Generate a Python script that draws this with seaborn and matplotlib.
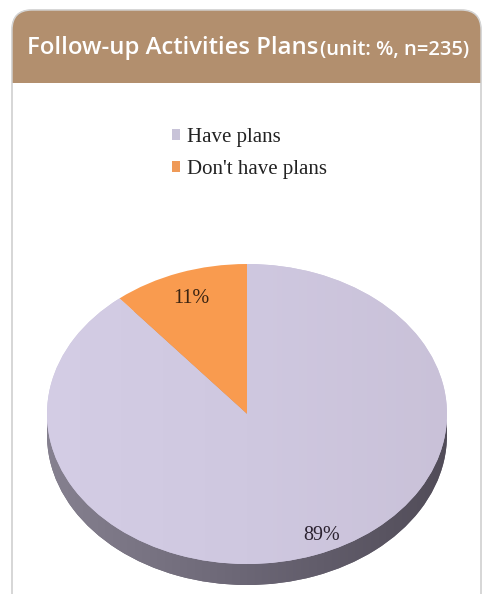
import numpy as np
import matplotlib
matplotlib.use("Agg")
import matplotlib.pyplot as plt
import seaborn as sns
from matplotlib.patches import FancyBboxPatch, Rectangle
from matplotlib.colors import LinearSegmentedColormap

# ---- data ----
categories = ["Have plans", "Don't have plans"]
shares = [89, 11]
title_main = "Follow-up Activities Plans"
title_note = "(unit: %, n=235)"

# ---- style ----
sns.set_theme(style="white")
plt.rcParams["font.family"] = ["DejaVu Sans"]

top_colors = ["#cdc6df", "#f99b4f"]
side_colors = ["#6a6573", "#b86a2c"]
header_color = "#b28f6e"

W, H = 483, 594
fig = plt.figure(figsize=(W / 100, H / 100), dpi=100)
fig.patch.set_facecolor("white")

# background layer in pixel coordinates
bg = fig.add_axes([0, 0, 1, 1])
bg.set_xlim(0, W)
bg.set_ylim(H, 0)
bg.axis("off")

panel = FancyBboxPatch((12, 10), 469, 610, boxstyle="round,pad=0,rounding_size=20",
                       facecolor="white", edgecolor="#d4d4d4", linewidth=1.0, zorder=1)
bg.add_patch(panel)
header = Rectangle((0, 0), W, 83, facecolor=header_color, edgecolor="none", zorder=2)
bg.add_patch(header)
header.set_clip_path(panel)
bg.add_patch(FancyBboxPatch((12, 10), 469, 610, boxstyle="round,pad=0,rounding_size=20",
                            facecolor="none", edgecolor="#d4d4d4", linewidth=1.0, zorder=3))

# title: main part fitted to its width, note appended after it
t1 = bg.text(27, 48, title_main, color="white", fontsize=20, fontfamily="Open Sans",
             fontweight="semibold", va="center", ha="left", zorder=4)
fig.canvas.draw()
r = fig.canvas.get_renderer()
ext = t1.get_window_extent(r)
t1.set_fontsize(20 * (318 - 27) / ext.width)
fig.canvas.draw()
ext = t1.get_window_extent(r)
x_end = ext.x1
t2 = bg.text(x_end + 2, 50, title_note, color="white", fontsize=12, fontfamily="Open Sans",
             fontweight="semibold", va="center", ha="left", zorder=4)
fig.canvas.draw()
e2 = t2.get_window_extent(r)
t2.set_fontsize(12 * (470 - x_end - 2) / e2.width)

# ---- pie axes: centre (247, 414), rx=200 px, ry=150 px ----
cx, cy, rx, ry = 247, 414, 200, 150
xlim = (-1.1, 1.1)
ylim = (-1.3, 1.1)
left_px = cx + xlim[0] * rx
width_px = (xlim[1] - xlim[0]) * rx
bottom_px = cy - ylim[0] * ry  # pixel from top
height_px = (ylim[1] - ylim[0]) * ry
ax = fig.add_axes([left_px / W, (H - bottom_px) / H, width_px / W, height_px / H])
ax.patch.set_alpha(0)

depth = 21 / ry

# side of the disc: the same shares, shifted down
side_wedges, _ = ax.pie(shares, colors=side_colors, startangle=90, counterclock=False,
                        center=(0, -depth), wedgeprops=dict(linewidth=0, zorder=1))
side_cmap = LinearSegmentedColormap.from_list("side", ["#878291", "#6b6675", "#504b57"])
grad = np.linspace(0, 1, 256).reshape(1, -1)
im = ax.imshow(grad, extent=[-1.05, 1.05, -1.3, 0.2], cmap=side_cmap, aspect="auto",
               zorder=1.5, interpolation="bicubic")
im.set_clip_path(side_wedges[0])

# top face of the disc
top_wedges, _, pct_texts = ax.pie(
    shares, colors=top_colors, startangle=90, counterclock=False,
    autopct="%.0f%%", pctdistance=0.82,
    wedgeprops=dict(linewidth=0, zorder=2),
    textprops=dict(fontfamily="Liberation Serif", fontsize=14.5, color="#2b2230", zorder=4))
top_cmap = LinearSegmentedColormap.from_list("top", ["#d4cde5", "#cfc8e0", "#c9c1d8"])
im2 = ax.imshow(grad, extent=[-1.05, 1.05, -1.1, 1.1], cmap=top_cmap, aspect="auto",
                zorder=2.5, interpolation="bicubic")
im2.set_clip_path(top_wedges[0])

# 89% label sits low on the right; 11% label stays inside its wedge
pct_texts[0].set_position((0.375, -0.807))
pct_texts[1].set_color("#3a2412")

ax.set_aspect("auto")
ax.set_xlim(*xlim)
ax.set_ylim(*ylim)
ax.axis("off")

# legend
leg = fig.legend(top_wedges, categories, loc="upper left",
                 bbox_to_anchor=(172 / W, 1 - 128 / H), frameon=False,
                 prop=dict(family="Liberation Serif", size=15),
                 handlelength=0.4, handleheight=0.4, handletextpad=0.3,
                 labelspacing=0.62, borderaxespad=0, borderpad=0)
for txt in leg.get_texts():
    txt.set_color("#222222")
for h, c in zip(leg.legend_handles, ["#c8c3d8", "#ef9a58"]):
    h.set_facecolor(c)

fig.savefig("out.png", dpi=100, facecolor="white")
